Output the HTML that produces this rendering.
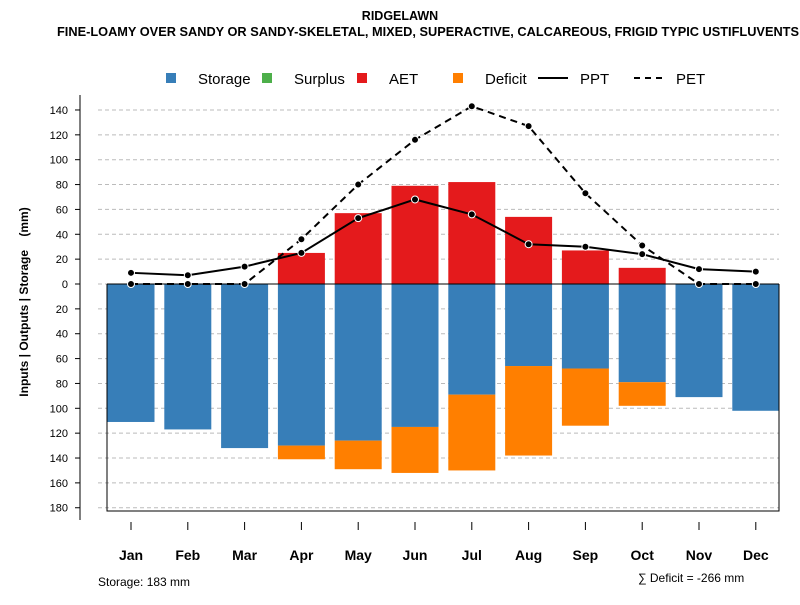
<!DOCTYPE html>
<html><head><meta charset="utf-8"><style>
body{margin:0;background:#fff}
svg{font-family:"Liberation Sans",sans-serif}
</style></head><body>
<svg id="c" width="800" height="600" viewBox="0 0 800 600" xmlns="http://www.w3.org/2000/svg">
<text x="400" y="20" text-anchor="middle" font-size="12.5" font-weight="bold">RIDGELAWN</text>
<text x="57" y="36" textLength="742" lengthAdjust="spacingAndGlyphs" font-size="12.5" font-weight="bold">FINE-LOAMY OVER SANDY OR SANDY-SKELETAL, MIXED, SUPERACTIVE, CALCAREOUS, FRIGID TYPIC USTIFLUVENTS</text>
<g id="legend" font-size="15">
<g><rect x="166" y="73" width="10" height="10" fill="#377EB8"/><text x="198" y="84">Storage</text></g>
<g><rect x="262" y="73" width="10" height="10" fill="#4DAF4A"/><text x="294" y="84">Surplus</text></g>
<g><rect x="357" y="73" width="10" height="10" fill="#E41A1C"/><text x="389" y="84">AET</text></g>
<g><rect x="453" y="73" width="10" height="10" fill="#FF7F00"/><text x="485" y="84">Deficit</text></g>
<g><line x1="538" y1="78" x2="568" y2="78" stroke="#000" stroke-width="2"/><text x="580" y="84">PPT</text></g>
<g><line x1="634" y1="78" x2="664" y2="78" stroke="#000" stroke-width="2" stroke-dasharray="6,5"/><text x="676" y="84">PET</text></g>
</g>
<text xml:space="preserve" transform="translate(28,302) rotate(-90)" text-anchor="middle" font-size="12" font-weight="bold">Inputs | Outputs | Storage    (mm)</text>
<text x="98" y="586" font-size="12">Storage: 183 mm</text>
<text x="638" y="582" font-size="12">∑ Deficit = -266 mm</text>
<g id="plot"></g>
</svg>
<script>
const months=["Jan","Feb","Mar","Apr","May","Jun","Jul","Aug","Sep","Oct","Nov","Dec"];
const storage=[111,117,132,130,126,115,89,66,68,79,91,102];
const deficit=[0,0,0,11,23,37,61,72,46,19,0,0];
const aet=[0,0,0,25,57,79,82,54,27,13,0,0];
const ppt=[9,7,14,25,53,68,56,32,30,24,12,10];
const pet=[0,0,0,36,80,116,143,127,73,31,0,0];
const yTicks=[140,120,100,80,60,40,20,0,-20,-40,-60,-80,-100,-120,-140,-160,-180];
const NS="http://www.w3.org/2000/svg";
const g=document.getElementById('plot');
const y0=284,k=1.243;
const Y=v=>y0-v*k;
const X=i=>131+i*56.8;
const bw=47;
function mk(t,a,p){const e=document.createElementNS(NS,t);for(const n in a)e.setAttribute(n,a[n]);(p||g).appendChild(e);return e;}
yTicks.forEach(v=>{
 const l=mk('line',{x1:98,x2:779,y1:Y(v),y2:Y(v),stroke:'#bbb','stroke-dasharray':'4,3'});
 
 
 const t=mk('line',{x1:75,x2:80,y1:Y(v),y2:Y(v),stroke:'#000'});
 
 
 const tx=mk('text',{x:68,y:Y(v)+4,'text-anchor':'end','font-size':11});
 tx.textContent=Math.abs(v);
 
 
});
const ax=mk('line',{x1:80,x2:80,y1:95,y2:520,stroke:'#000'});


months.forEach((m,i)=>{
 const x=X(i);
 const s=mk('rect',{x:x-bw/2,y:y0,width:bw,height:storage[i]*k,fill:'#377EB8'});
 
 
 if(deficit[i]>0){const d=mk('rect',{x:x-bw/2,y:Y(-storage[i]),width:bw,height:deficit[i]*k,fill:'#FF7F00'});
 
 }
 if(aet[i]>0){const a=mk('rect',{x:x-bw/2,y:Y(aet[i]),width:bw,height:aet[i]*k,fill:'#E41A1C'});
 
 }
 const t=mk('line',{x1:x,x2:x,y1:522,y2:530,stroke:'#000'});
 
 
 const tx=mk('text',{x:x,y:560,'text-anchor':'middle','font-size':14,'font-weight':'bold'});
 tx.textContent=m;
 
 
});
const box=mk('path',{d:`M107,${y0} V511 H779 V${y0}`,fill:'none',stroke:'#000'});


const zl=mk('line',{x1:107,x2:779,y1:y0,y2:y0,stroke:'#000'});


function series(arr,name,dash){
 const p=mk('polyline',{points:arr.map((v,i)=>X(i)+','+Y(v)).join(' '),fill:'none',stroke:'#000','stroke-width':2,'stroke-dasharray':dash});
 
 
 arr.forEach((v,i)=>{const c=mk('circle',{cx:X(i),cy:Y(v),r:3.5,fill:'#000',stroke:'#fff','stroke-width':1});
 
 });
}
series(pet,'pet','7,5');
series(ppt,'ppt','none');
</script>
</body></html>
